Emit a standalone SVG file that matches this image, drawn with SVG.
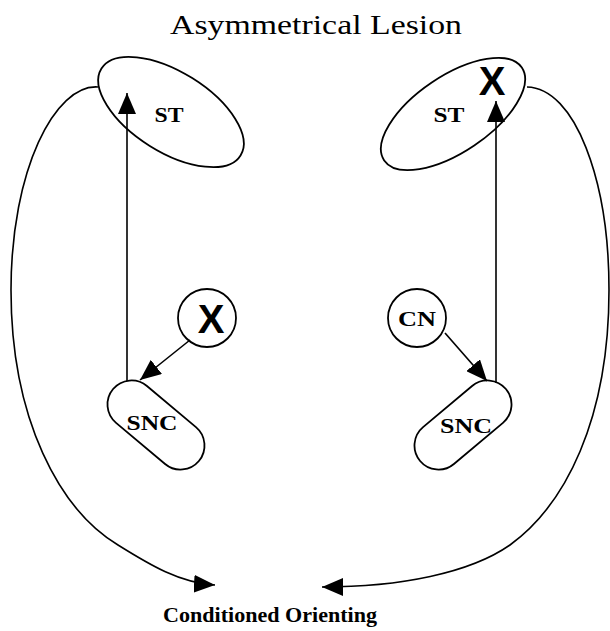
<svg xmlns="http://www.w3.org/2000/svg" width="610" height="631" viewBox="0 0 610 631">
<style>
  .shape { fill: none; stroke: #000; stroke-width: 1.8; }
  .edge { fill: none; stroke: #000; stroke-width: 1.6; }
  .lbl { font-family: "Liberation Serif", "Times New Roman", serif; font-weight: bold; fill: #000; text-anchor: middle; }
  .x { font-family: "Liberation Sans", Arial, sans-serif; font-weight: bold; font-size: 40px; fill: #000; text-anchor: middle; }
  .title { font-family: "Liberation Serif", "Times New Roman", serif; font-size: 28px; fill: #000; }
</style>
<defs>
  <marker id="ah" markerUnits="userSpaceOnUse" markerWidth="22" markerHeight="18" viewBox="0 0 22 18" refX="21" refY="9" orient="auto">
    <path d="M0,0 L21,9 L0,18 z" fill="#000"/>
  </marker>
</defs>
<rect width="610" height="631" fill="#fff"/>
<text class="title" x="170" y="34" textLength="292" lengthAdjust="spacingAndGlyphs">Asymmetrical  Lesion</text>

<g id="st-left">
  <ellipse class="shape" cx="171" cy="112" rx="82" ry="40" transform="rotate(32 171 112)"/>
  <text class="lbl" x="169" y="122" font-size="22" textLength="29" lengthAdjust="spacingAndGlyphs">ST</text>
</g>
<g id="st-right">
  <ellipse class="shape" cx="453" cy="114" rx="83" ry="38" transform="rotate(-34 453 114)"/>
  <text class="lbl" x="449" y="122" font-size="22" textLength="31" lengthAdjust="spacingAndGlyphs">ST</text>
  <text class="x" x="492" y="95">X</text>
</g>
<g id="x-left">
  <circle class="shape" cx="207" cy="318" r="29"/>
  <text class="x" x="211" y="333">X</text>
</g>
<g id="cn-right">
  <circle class="shape" cx="417" cy="318" r="29"/>
  <text class="lbl" x="417" y="326" font-size="22" textLength="38" lengthAdjust="spacingAndGlyphs">CN</text>
</g>
<g id="snc-left">
  <rect class="shape" x="-56" y="-24" width="112" height="48" rx="24" transform="translate(156 425) rotate(40)"/>
  <text class="lbl" x="152" y="430" font-size="22" textLength="51" lengthAdjust="spacingAndGlyphs">SNC</text>
</g>
<g id="snc-right">
  <rect class="shape" x="-56" y="-24" width="112" height="48" rx="24" transform="translate(463 425) rotate(-40)"/>
  <text class="lbl" x="466" y="433" font-size="22" textLength="52" lengthAdjust="spacingAndGlyphs">SNC</text>
</g>
<g id="outcome">
  <text class="lbl" x="270" y="622" font-size="21" textLength="214" lengthAdjust="spacingAndGlyphs">Conditioned Orienting</text>
</g>

<g id="connectors">
  <line class="edge" x1="127" y1="381" x2="127" y2="93" marker-end="url(#ah)"/>
  <line class="edge" x1="496" y1="383" x2="496" y2="101" marker-end="url(#ah)"/>
  <line class="edge" x1="190" y1="340" x2="140" y2="380" marker-end="url(#ah)"/>
  <line class="edge" x1="445" y1="333" x2="487" y2="381" marker-end="url(#ah)"/>
  <path class="edge" d="M98,87 C55,84 11,170 11,290 C11,420 60,510 118,545 C150,565 180,583 215,585" marker-end="url(#ah)"/>
  <path class="edge" d="M527,87 C575,88 609,180 609,290 C609,420 565,505 510,545 C470,573 400,587 322,587" marker-end="url(#ah)"/>
</g>
</svg>
